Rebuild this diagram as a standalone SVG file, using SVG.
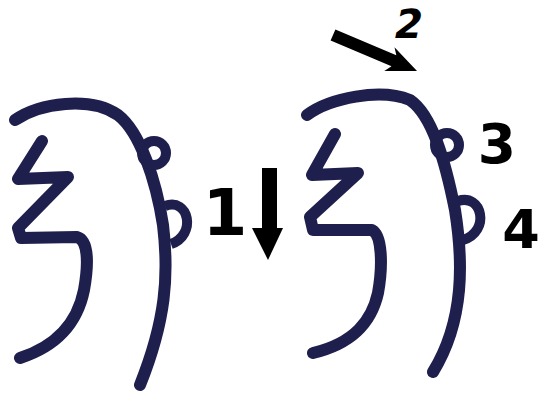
<svg xmlns="http://www.w3.org/2000/svg" width="541" height="394" viewBox="0 0 541 394">
<style>
.s{fill:none;stroke:#1f1f4e;stroke-width:12;stroke-linecap:round;stroke-linejoin:round}
.c{fill:none;stroke:#1f1f4e;stroke-width:10}
.n{font-family:"DejaVu Sans","Liberation Sans",sans-serif;font-weight:bold;fill:#000;text-anchor:middle}
.a{fill:#000}
</style>
<rect width="541" height="394" fill="#fff"/>
<g id="figure-left">
<path class="s" d="M15,120 C40,103 90,96 118,115 C140,132 156,180 163,225 C169,275 166,320 140,385"/>
<path class="s" d="M42,141 L18,179 L68,177 L18,228 L21,238 L77,237 C88,240 89,262 84,290 C78,320 60,345 20,358"/>
<circle class="c" cx="154" cy="153" r="12"/>
<path class="c" d="M165,206 C189,197 197,235 171,244"/>
</g>
<g id="figure-right">
<path class="s" d="M307,115 C330,98 380,88 410,100 C432,115 445,160 455,210 C463,260 465,320 433,372"/>
<path class="s" d="M335,134 L312,175 L358,173 L310,217 L313,230 L372,230 C382,235 383,265 378,293 C372,320 355,343 313,353"/>
<circle class="c" cx="447" cy="145" r="12"/>
<path class="c" d="M458,201 C482,193 491,231 463,240"/>
</g>
<g id="arrows">
<polygon class="a" points="262,168 277,168 277,228 283,228 268,260 252,228 262,228"/>
<polygon class="a" points="330.6,40.5 335.4,29.5 396.3,55.3 394.5,47.3 417,71 384.3,71.1 391.5,66.3"/>
</g>
<g id="labels">
<text class="n" x="225" y="235" font-size="64">1</text>
<text class="n" transform="translate(406,38) skewX(-12)" font-size="40">2</text>
<text class="n" x="497" y="163" font-size="55">3</text>
<text class="n" x="521" y="248" font-size="54">4</text>
</g>
</svg>
